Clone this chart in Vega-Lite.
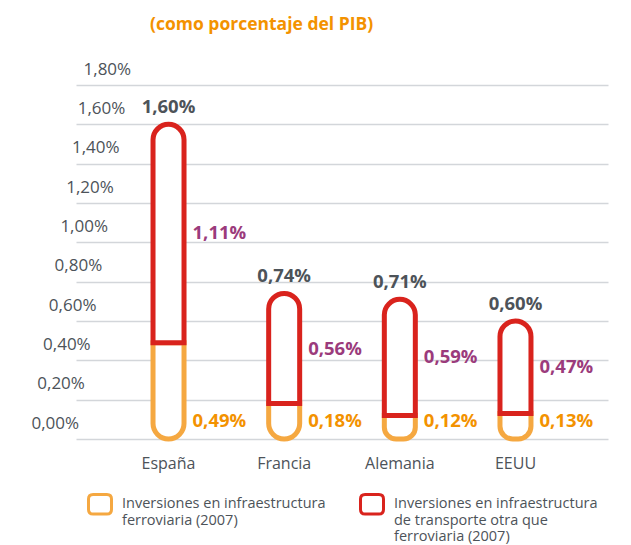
{
  "$schema": "https://vega.github.io/schema/vega-lite/v6.json",
  "width": 532,
  "height": 354,
  "autosize": "none",
  "padding": {"left": 76, "top": 85, "right": 23, "bottom": 106},
  "background": "white",
  "config": {
    "font": "Open Sans",
    "view": {"stroke": null},
    "locale": {"number": {"decimal": ",", "thousands": ".", "grouping": [3], "currency": ["", "%"]}}
  },
  "title": {
    "text": "(como porcentaje del PIB)",
    "anchor": "start",
    "frame": "group",
    "dx": 74,
    "offset": 27,
    "fontSize": 17.5,
    "fontWeight": "bold",
    "color": "#f39200",
    "font": "Open Sans"
  },
  "data": {
    "values": [
      {"pais": "España", "tipo": "ferro", "serie": "Inversiones en infraestructura|ferroviaria (2007)|", "valor": 0.49, "total": 1.60},
      {"pais": "España", "tipo": "otra", "serie": "Inversiones en infraestructura|de transporte otra que|ferroviaria (2007)", "valor": 1.11, "total": 1.60},
      {"pais": "Francia", "tipo": "ferro", "serie": "Inversiones en infraestructura|ferroviaria (2007)|", "valor": 0.18, "total": 0.74},
      {"pais": "Francia", "tipo": "otra", "serie": "Inversiones en infraestructura|de transporte otra que|ferroviaria (2007)", "valor": 0.56, "total": 0.74},
      {"pais": "Alemania", "tipo": "ferro", "serie": "Inversiones en infraestructura|ferroviaria (2007)|", "valor": 0.12, "total": 0.71},
      {"pais": "Alemania", "tipo": "otra", "serie": "Inversiones en infraestructura|de transporte otra que|ferroviaria (2007)", "valor": 0.59, "total": 0.71},
      {"pais": "EEUU", "tipo": "ferro", "serie": "Inversiones en infraestructura|ferroviaria (2007)|", "valor": 0.13, "total": 0.60},
      {"pais": "EEUU", "tipo": "otra", "serie": "Inversiones en infraestructura|de transporte otra que|ferroviaria (2007)", "valor": 0.47, "total": 0.60}
    ]
  },
  "transform": [
    {"stack": "valor", "groupby": ["pais"], "sort": [{"field": "tipo", "order": "ascending"}], "as": ["y0", "y1"]},
    {"calculate": "(datum.y0 + datum.y1) / 2", "as": "ymid"}
  ],
  "encoding": {
    "x": {
      "field": "pais",
      "type": "nominal",
      "sort": ["España", "Francia", "Alemania", "EEUU"],
      "scale": {"paddingInner": 0, "paddingOuter": 0.3},
      "axis": {
        "title": null,
        "domain": false,
        "ticks": false,
        "labelAngle": 0,
        "labelPadding": 16,
        "labelFontSize": 16,
        "labelColor": "#4d5359",
        "labelFont": "Open Sans"
      }
    }
  },
  "layer": [
    {
      "transform": [{"filter": "datum.tipo == 'ferro'"}],
      "mark": {"type": "bar", "width": 31, "fill": "white", "strokeWidth": 5, "cornerRadiusBottomLeft": 16, "cornerRadiusBottomRight": 16},
      "encoding": {
        "y": {
          "field": "y1",
          "type": "quantitative",
          "scale": {"domain": [0, 1.8]},
          "axis": {
            "values": [0, 0.2, 0.4, 0.6, 0.8, 1.0, 1.2, 1.4, 1.6, 1.8],
            "tickCount": 20,
            "format": "$.2f",
            "title": null,
            "domain": false,
            "ticks": false,
            "tickSize": 0,
            "labelOverlap": false,
            "labelAlign": "left",
            "labelBaseline": "middle",
            "labelOffset": -16,
            "labelPadding": {"expr": "45 - 28.9 * datum.value"},
            "labelFontSize": 17,
            "labelColor": "#4d5359",
            "labelFont": "Open Sans",
            "gridColor": "#d3d6da",
            "gridWidth": 1.5
          }
        },
        "y2": {"field": "y0"},
        "stroke": {
          "field": "serie",
          "type": "nominal",
          "scale": {
            "domain": ["Inversiones en infraestructura|ferroviaria (2007)|", "Inversiones en infraestructura|de transporte otra que|ferroviaria (2007)"],
            "range": ["#f5a841", "#d9231d"]
          },
          "legend": {
            "orient": "none",
            "legendX": 11,
            "legendY": 406,
            "title": null,
            "direction": "horizontal",
            "columns": 2,
            "columnPadding": 28,
            "symbolType": "M-0.6,-0.85L0.6,-0.85Q1,-0.85 1,-0.45L1,0.45Q1,0.85 0.6,0.85L-0.6,0.85Q-1,0.85 -1,0.45L-1,-0.45Q-1,-0.85 -0.6,-0.85Z",
            "symbolSize": 529,
            "symbolStrokeWidth": 3,
            "symbolFillColor": "white",
            "labelFontSize": 14.5,
            "labelColor": "#4d5359",
            "labelFont": "Open Sans",
            "labelExpr": "split(datum.label, '|')",
            "labelLimit": 400,
            "labelOffset": 9
          }
        }
      }
    },
    {
      "transform": [{"filter": "datum.tipo == 'otra'"}],
      "mark": {"type": "bar", "width": 31, "fill": "white", "strokeWidth": 5, "cornerRadiusTopLeft": 16, "cornerRadiusTopRight": 16},
      "encoding": {
        "y": {"field": "y1", "type": "quantitative"},
        "y2": {"field": "y0"},
        "stroke": {"field": "serie", "type": "nominal"}
      }
    },
    {
      "transform": [{"filter": "datum.tipo == 'otra'"}],
      "mark": {"type": "text", "fontSize": 18.5, "fontWeight": "bold", "color": "#4d5359", "baseline": "middle", "dy": -17},
      "encoding": {
        "y": {"field": "total", "type": "quantitative"},
        "text": {"field": "total", "type": "quantitative", "format": "$.2f"}
      }
    },
    {
      "transform": [{"filter": "datum.tipo == 'otra'"}],
      "mark": {"type": "text", "fontSize": 18.5, "fontWeight": "bold", "color": "#9b3b7c", "baseline": "middle", "align": "left", "dx": 24},
      "encoding": {
        "y": {"field": "ymid", "type": "quantitative"},
        "text": {"field": "valor", "type": "quantitative", "format": "$.2f"}
      }
    },
    {
      "transform": [{"filter": "datum.tipo == 'ferro'"}],
      "mark": {"type": "text", "fontSize": 18.5, "fontWeight": "bold", "color": "#f39200", "baseline": "middle", "align": "left", "dx": 24, "dy": -18},
      "encoding": {
        "y": {"datum": 0, "type": "quantitative"},
        "text": {"field": "valor", "type": "quantitative", "format": "$.2f"}
      }
    }
  ]
}
